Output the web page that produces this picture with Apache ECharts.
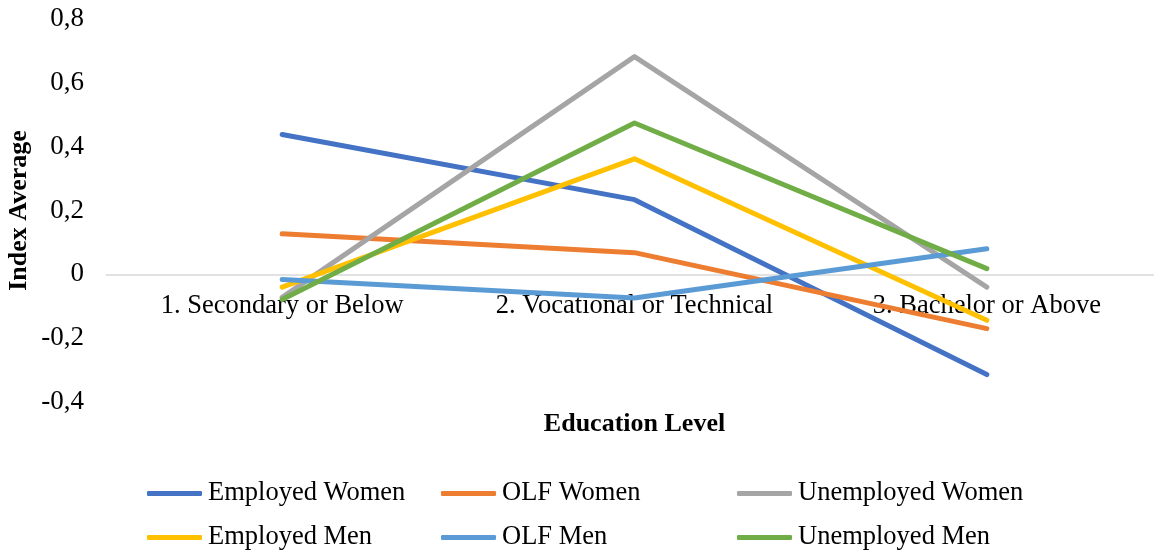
<!DOCTYPE html>
<html>
<head>
<meta charset="utf-8">
<script src="https://cdn.jsdelivr.net/npm/echarts@6/dist/echarts.min.js"></script>
<style>html,body{margin:0;padding:0;background:#fff}#c{width:1154px;height:552px}</style>
</head>
<body>
<div id="c"></div>
<script>
const categories = ['1. Secondary or Below', '2. Vocational or Technical', '3. Bachelor or Above'];
const seriesNames = ['Employed Women', 'OLF Women', 'Unemployed Women', 'Employed Men', 'OLF Men', 'Unemployed Men'];
const employedWomen = [0.438, 0.234, -0.314];
const olfWomen = [0.127, 0.068, -0.170];
const unemployedWomen = [-0.072, 0.682, -0.040];
const employedMen = [-0.040, 0.362, -0.144];
const olfMen = [-0.016, -0.074, 0.080];
const unemployedMen = [-0.079, 0.474, 0.018];
const seriesValues = [employedWomen, olfWomen, unemployedWomen, employedMen, olfMen, unemployedMen];
const colors = ['#4472C4', '#ED7D31', '#A5A5A5', '#FFC000', '#5B9BD5', '#70AD47'];
const yTicks = { min: -0.4, max: 0.8, interval: 0.2 };

const FONT = '"Liberation Serif", "Times New Roman", serif';
const chart = echarts.init(document.getElementById('c'));

const GRID_TOP = 19, GRID_H = 383;
const zeroOffset = -GRID_H * (0 - yTicks.min) / (yTicks.max - yTicks.min);

const legendPos = [
  { left: 147, top: 480 }, { left: 441, top: 480 }, { left: 737, top: 480 },
  { left: 147, top: 524 }, { left: 441, top: 524 }, { left: 737, top: 524 }
];

chart.setOption({
  animation: false,
  color: colors,
  textStyle: { fontFamily: FONT },
  grid: { left: 106, top: GRID_TOP, width: 1057, height: GRID_H, containLabel: false, outerBoundsMode: 'none' },
  legend: seriesNames.map((n, i) => ({
    data: [n], left: legendPos[i].left, top: legendPos[i].top,
    icon: 'roundRect', itemWidth: 55, itemHeight: 5, itemGap: 0,
    textStyle: { fontFamily: FONT, fontSize: 26.5, color: '#000', padding: [0, 0, 0, 1] },
    padding: 0
  })),
  xAxis: {
    type: 'category', data: categories, boundaryGap: true,
    offset: zeroOffset,
    axisLine: { onZero: false, lineStyle: { color: '#d9d9d9', width: 1.5 } },
    axisTick: { show: false },
    axisLabel: { fontFamily: FONT, fontSize: 26.5, color: '#000', margin: 18, interval: 0 },
    name: 'Education Level', nameLocation: 'middle', nameGap: 137, nameMoveOverlap: false,
    nameTextStyle: { fontFamily: FONT, fontSize: 26, fontWeight: 'bold', color: '#000' }
  },
  yAxis: {
    type: 'value', min: yTicks.min, max: yTicks.max, interval: yTicks.interval,
    axisLine: { show: false }, axisTick: { show: false }, splitLine: { show: false },
    axisLabel: {
      fontFamily: FONT, fontSize: 27, color: '#000', margin: 22,
      formatter: v => (Math.abs(v) < 1e-9 ? '0' : String(Math.round(v * 10) / 10).replace('.', ','))
    },
    name: 'Index Average', nameLocation: 'middle', nameGap: 74, nameRotate: 90, nameMoveOverlap: false,
    nameTextStyle: { fontFamily: FONT, fontSize: 26, fontWeight: 'bold', color: '#000' }
  },
  series: seriesNames.map((n, i) => ({
    name: n, type: 'line', data: seriesValues[i],
    symbol: 'none', lineStyle: { width: 5, color: colors[i], cap: 'round', join: 'round' },
    itemStyle: { color: colors[i] }
  }))
});
</script>
</body>
</html>
